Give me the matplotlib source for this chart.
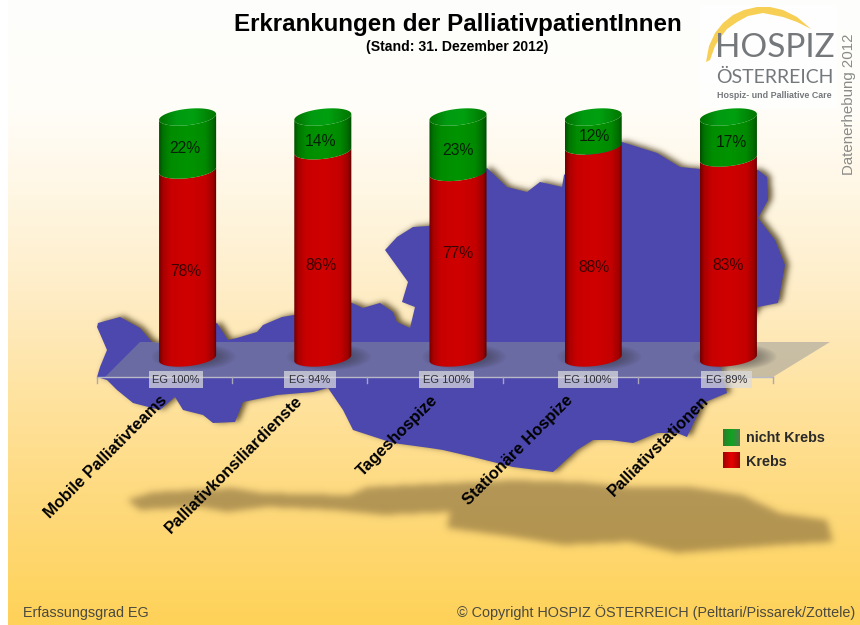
import numpy as np
import matplotlib
matplotlib.use("Agg")
import matplotlib.pyplot as plt
from matplotlib.patches import Polygon, Rectangle
from matplotlib.path import Path
from matplotlib.colors import LinearSegmentedColormap

# ---------- data ----------
categories = ["Mobile Palliativteams", "Palliativkonsiliardienste", "Tageshospize",
              "Stationäre Hospize", "Palliativstationen"]
krebs = [78, 86, 77, 88, 83]
nicht_krebs = [22, 14, 23, 12, 17]
erfassungsgrad = [100, 94, 100, 100, 89]

# ---------- hand-placed label layout (value-axis heights, pixel x of EG boxes) ----------
krebs_label_y = [36, 38.5, 43.5, 37.5, 38.5]
nicht_label_y = [87, 90, 86, 92, 89.5]
label_dx = [-0.01, -0.01, 0.0, 0.005, 0.0]
nicht_dx = [-0.02, -0.02, 0.0, 0.005, 0.02]
eg_box_x = [(149, 203), (284, 336), (419, 474), (558, 618), (701, 752)]

# ---------- decoration outlines (pixels) ----------
map_x = [98,120,140,152,170,217,228,237,257,263,282,294,330,352,363,373,380,393,397,410,415,402,408,385,397,413,429,460,487,
         507,527,540,562,564,590,622,657,680,700,730,758,767,768,758,775,785,778,758,735,720,727,703,687,677,657,633,610,593,577,
         553,513,473,443,430,393,353,343,328,313,277,243,235,213,203,183,175,160,133,117,107,97,100,107,97]
map_y = [323,317,328,342,345,323,340,338,332,325,317,315,305,303,308,305,303,312,322,328,307,302,282,250,237,227,226,190,168,
         187,192,182,187,175,150,142,153,167,169,170,170,177,200,218,240,265,303,307,340,365,393,403,437,433,433,443,440,440,450,
         472,467,457,450,448,443,430,410,388,392,395,402,422,423,415,410,397,410,403,390,380,377,367,350,327]
ground_x = [127,153,233,263,350,367,430,513,580,630,690,743,780,827,833,780,677,630,563,513,447,450,430,383,333,267,227,200,140]
ground_y = [500,492,488,493,495,487,484,480,482,487,487,495,513,520,542,545,553,542,545,537,528,512,513,515,510,507,512,507,510]
arc_x = [706,709,715,723,733,744,757,770,783,797,811,797,783,763,748,737,727,720,715,710]
arc_y = [62,46,33,23,15,10,7,7,10,17,29,22,17,13,16,22,29,38,46,60]

W, H = 860, 625
plt.rcParams['font.family'] = ['Liberation Sans', 'DejaVu Sans']
fig = plt.figure(figsize=(W / 100, H / 100), dpi=100, facecolor='white')
bg = fig.add_axes([0, 0, 1, 1])
bg.set_xlim(0, W); bg.set_ylim(H, 0); bg.axis('off')

# background gradient
stops = [(0, '#fdfdfc'), (110/625, '#fffdf8'), (200/625, '#fff6e2'), (300/625, '#feecc4'),
         (400/625, '#fee29e'), (500/625, '#feda7e'), (1, '#fed258')]
bg_cmap = LinearSegmentedColormap.from_list('bgc', stops)
bg.imshow(np.linspace(0, 1, 625)[:, None], cmap=bg_cmap, extent=(8, W, H, 0), aspect='auto', vmin=0, vmax=1, zorder=0)

yy, xx = np.mgrid[0:H, 0:W]
pts = np.column_stack([xx.ravel() + .5, yy.ravel() + .5])

def blur_mask(px, py, sigma, dx=0, dy=0):
    m = Path(np.column_stack([np.array(px) + dx, np.array(py) + dy])).contains_points(pts).reshape(H, W).astype(float)
    fy = np.fft.fftfreq(H)[:, None]; fx = np.fft.rfftfreq(W)[None, :]
    g = np.exp(-2 * (np.pi * sigma) ** 2 * (fx ** 2 + fy ** 2))
    return np.clip(np.fft.irfft2(np.fft.rfft2(m) * g, s=(H, W)), 0, 1)

def overlay(mask, rgb, alpha, z):
    im = np.zeros((H, W, 4)); im[..., :3] = np.array(rgb) / 255; im[..., 3] = mask * alpha
    bg.imshow(im, extent=(0, W, H, 0), aspect='auto', zorder=z, interpolation='bilinear')

overlay(blur_mask(ground_x, ground_y, 3.5), (125, 100, 55), 0.58, 1)
overlay(blur_mask(map_x, map_y, 3.0, dx=4, dy=-1), (70, 55, 25), 0.85, 2)
bg.add_patch(Polygon(np.column_stack([map_x, map_y]), closed=True, fc='#4c48ae', ec='none', zorder=3))

# floor + axis
bg.add_patch(Polygon([(140, 342), (830, 342), (773, 377), (105, 377)], closed=True,
                     fc=(143/255, 147/255, 154/255, .48), ec='none', zorder=4))
bg.plot([97, 773], [377, 377], color='#b8b8c8', lw=1, zorder=5)
for k in range(6):
    tx = 97 + k * 135.2
    bg.plot([tx, tx], [377, 383], color='#a8a8b8', lw=1, zorder=5)

# logo
bg.add_patch(Rectangle((700, 5), 137, 103, fc='white', ec='none', alpha=.85, zorder=5))
bg.add_patch(Polygon(np.column_stack([arc_x, arc_y]), closed=True, fc='#f8cf55', ec='none', zorder=6))
logo_font = ['Lato', 'Liberation Sans']
bg.text(774.5, 48, "HOSPIZ", family=logo_font, fontsize=24, color='#75787b', ha='center', va='center', zorder=7)
bg.text(774.5, 77, "ÖSTERREICH", family=logo_font, fontsize=14, color='#75787b', ha='center', va='center', zorder=7)
bg.text(774.5, 95.5, "Hospiz- und Palliative Care", fontsize=6.4, fontweight='bold', color='#75787b',
        ha='center', va='center', zorder=7)
bg.text(849, 104, "Datenerhebung 2012", fontsize=10.8, color='#8a8a88', rotation=90, ha='center', va='center', zorder=7)

# titles
bg.text(457.5, 25, "Erkrankungen der PalliativpatientInnen", fontsize=17.4, fontweight='bold', color='black',
        ha='center', va='center', zorder=7)
bg.text(457, 47, "(Stand: 31. Dezember 2012)", fontsize=10.1, fontweight='bold', color='black',
        ha='center', va='center', zorder=7)

# footer
bg.text(23, 613, "Erfassungsgrad EG", fontsize=10.4, color='#4a4a40', ha='left', va='center', zorder=7)
bg.text(855, 613, "© Copyright HOSPIZ ÖSTERREICH (Pelttari/Pissarek/Zottele)", fontsize=10.4, color='#4a4a40',
        ha='right', va='center', zorder=7)

# EG boxes
for (x0, x1), eg in zip(eg_box_x, erfassungsgrad):
    bg.add_patch(Rectangle((x0, 371), x1 - x0, 17, fc='#dcdce0', ec='none', alpha=.72, zorder=6))
    bg.text((x0 + x1) / 2, 380, f"EG {eg}%", fontsize=8, color='#303038', ha='center', va='center', zorder=7)

# chart axes: value 0 at pixel 358, value 100 at pixel 117, one category = 135.2 px.
# The value range is padded so the elliptical ends and shadows are not clipped.
PAD = 15
PX = 2.41
chart = fig.add_axes([120 / W, 1 - (358 + PAD * PX) / H, 676 / W, (241 + 2 * PAD * PX) / H])
chart.patch.set_alpha(0); chart.axis('off')

R = 0.211      # half bar width, categories
B = 3.4        # half ellipse height, value units
TILT = 1.2     # ellipse tilt, value units

def profile(stops_rgb):
    return LinearSegmentedColormap.from_list('cyl', stops_rgb)

red_cm = profile([(0, '#700000'), (.07, '#aa0000'), (.2, '#c80000'), (.5, '#d00000'), (.8, '#c40000'),
                  (.93, '#a00000'), (1, '#5a0000')])
green_cm = profile([(0, '#005000'), (.07, '#007400'), (.2, '#008c00'), (.5, '#009400'), (.8, '#008a00'),
                    (.93, '#006c00'), (1, '#004a00')])
cap_cm = profile([(0, '#007000'), (.3, '#009a10'), (.6, '#00a010'), (1, '#007400')])
grad = np.linspace(0, 1, 128)[None, :]

def ellipse_pts(i, v, t):
    return i + R * np.cos(t), v + B * np.sin(t) + TILT * np.cos(t)

def segment(i, v0, v1, cm, z):
    t = np.linspace(np.pi, 2 * np.pi, 60)
    x0, y0 = ellipse_pts(i, v0, t)
    x1, y1 = ellipse_pts(i, v1, t[::-1])
    poly = Polygon(np.column_stack([np.r_[x0, x1], np.r_[y0, y1]]), closed=True, transform=chart.transData, fc='none', ec='none')
    chart.add_patch(poly)
    im = chart.imshow(grad, cmap=cm, extent=(i - R, i + R, v0 - B - 3, v1 + B + 3), aspect='auto', zorder=z)
    im.set_clip_path(poly)

for i in range(len(categories)):
    # soft contact shadow
    t = np.linspace(0, 2 * np.pi, 60)
    for s in np.linspace(1.0, 0.55, 10):
        chart.fill(i + 0.045 + (R + .1) * s * np.cos(t), 0.5 + 5.5 * s * np.sin(t), color='#303030', alpha=.05, lw=0, zorder=1)
    segment(i, 0, krebs[i], red_cm, 2)
    segment(i, krebs[i], krebs[i] + nicht_krebs[i], green_cm, 3)
    t = np.linspace(0, 2 * np.pi, 80)
    ex, ey = ellipse_pts(i, krebs[i] + nicht_krebs[i], t)
    cap = Polygon(np.column_stack([ex, ey]), closed=True, transform=chart.transData, fc='none', ec='none')
    chart.add_patch(cap)
    im = chart.imshow(grad, cmap=cap_cm, extent=(i - R, i + R, 90, 110), aspect='auto', zorder=4)
    im.set_clip_path(cap)
    chart.text(i + label_dx[i], krebs_label_y[i], f"{krebs[i]}%", fontsize=11.3, color='#3a0000', ha='center', va='center', zorder=6)
    chart.text(i + nicht_dx[i], nicht_label_y[i], f"{nicht_krebs[i]}%", fontsize=11.3, color='#062006', ha='center', va='center', zorder=6)
    # category label: its end sits 18 px left of the bar, just under the axis
    chart.annotate(categories[i], xy=(i, 0), xytext=(-20, -25), textcoords='offset points', fontsize=11.9, fontweight='bold',
                   color='black', rotation=45, rotation_mode='anchor', ha='right', va='top', annotation_clip=False, zorder=8)
chart.set_xlim(-0.5, 4.5); chart.set_ylim(-PAD, 100 + PAD)

# legend
leg = fig.add_axes([0, 0, 1, 1]); leg.patch.set_alpha(0); leg.axis('off')
leg_green = profile([(0, '#2f7a30'), (.5, '#0fa51e'), (1, '#4f7a50')])
leg_red = profile([(0, '#a00000'), (.5, '#e80000'), (1, '#a00000')])
leg.imshow(grad, cmap=leg_green, extent=(723, 740, 446, 429), aspect='auto')
leg.imshow(grad, cmap=leg_red, extent=(723, 740, 468, 452), aspect='auto')
leg.text(746, 438.5, "nicht Krebs", fontsize=10.4, fontweight='bold', color='#2a2a2a', ha='left', va='center')
leg.text(746, 461.5, "Krebs", fontsize=10.4, fontweight='bold', color='#2a2a2a', ha='left', va='center')
leg.set_xlim(0, W); leg.set_ylim(H, 0)

fig.savefig("out.png", dpi=100)
